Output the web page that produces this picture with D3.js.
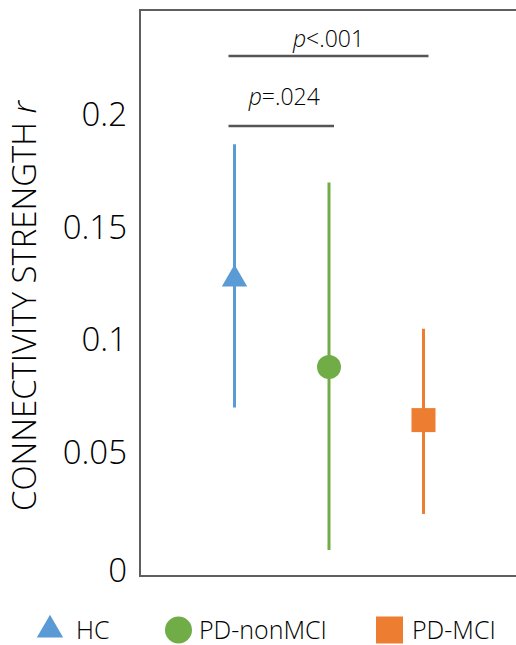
<!DOCTYPE html>
<html lang="en">
<head>
    <meta charset="UTF-8">
    <title>Connectivity strength</title>
    <script src="https://d3js.org/d3.v7.min.js"></script>
    <style>
        body, html {
            margin: 0;
            background-color: #ffffff;
            font-family: 'Open Sans', sans-serif;
        }
        svg text {
            font-family: 'Open Sans', sans-serif;
            font-weight: 300;
            fill: #000000;
        }
    </style>
</head>
<body>
<svg id="chart" width="516" height="645"></svg>

<script>
    // data
    const groups = ['HC', 'PD-nonMCI', 'PD-MCI'];
    const means = [0.127, 0.088, 0.0644];
    const lower = [0.070, 0.0067, 0.0227];
    const upper = [0.187, 0.170, 0.105];
    const yTicks = [0, 0.05, 0.1, 0.15, 0.2];
    const yTickLabels = ['0', '0.05', '0.1', '0.15', '0.2'];
    const brackets = [
        { from: 'HC', to: 'PD-MCI', level: 0.2262, label: '<.001' },
        { from: 'HC', to: 'PD-nonMCI', level: 0.1951, label: '=.024' }
    ];

    const colors = ['#5b9bd5', '#70ad47', '#ed7d31'];
    const shapes = [d3.symbolTriangle, d3.symbolCircle, d3.symbolSquare];
    const plotSizes = [280, 452, 576];
    const legendSizes = [300, 573, 729];

    const svg = d3.select('#chart');
    const plot = { left: 140, right: 518, top: 10, bottom: 576 };

    const x = d3.scalePoint().domain(groups).range([plot.left, plot.right]).padding(1);
    const y = d3.scaleLinear().domain([-0.00489, 0.24667]).range([plot.bottom, plot.top]);

    // frame: top, left, bottom
    svg.append('path')
        .attr('d', `M516,${plot.top}H${plot.left}V${plot.bottom}H516`)
        .attr('fill', 'none')
        .attr('stroke', '#5f5f5f')
        .attr('stroke-width', 2);

    // y axis labels, no tick marks
    const yAxis = d3.axisLeft(y)
        .tickValues(yTicks)
        .tickFormat((d, i) => yTickLabels[i])
        .tickSize(0)
        .tickPadding(13);
    const yg = svg.append('g').attr('transform', `translate(${plot.left},0)`).call(yAxis);
    yg.select('.domain').remove();
    yg.selectAll('text')
        .attr('font-size', 33)
        .style('font-family', "'Open Sans', sans-serif")
        .style('fill', '#000000');
    yg.selectAll('.tick').filter(d => d === 0).select('text').attr('dy', '0.5em');

    // y title
    const title = svg.append('text')
        .attr('transform', 'translate(36,306) rotate(-90)')
        .attr('text-anchor', 'middle')
        .attr('font-size', 33)
        .attr('textLength', 410)
        .attr('lengthAdjust', 'spacingAndGlyphs');
    title.append('tspan').text('CONNECTIVITY STRENGTH ');
    title.append('tspan').attr('font-style', 'italic').text('r');

    // error bars
    svg.selectAll('.err')
        .data(groups)
        .join('line')
        .attr('class', 'err')
        .attr('x1', d => x(d))
        .attr('x2', d => x(d))
        .attr('y1', (d, i) => y(lower[i]))
        .attr('y2', (d, i) => y(upper[i]))
        .attr('stroke', (d, i) => colors[i])
        .attr('stroke-width', 3);

    // mean markers
    svg.selectAll('.mean')
        .data(groups)
        .join('path')
        .attr('class', 'mean')
        .attr('transform', (d, i) => `translate(${x(d)},${y(means[i])})`)
        .attr('d', (d, i) => d3.symbol(shapes[i], plotSizes[i])())
        .attr('fill', (d, i) => colors[i]);

    // significance brackets
    const labelGap = [9, 21];
    brackets.forEach((b, i) => {
        const x1 = x(b.from) - 6;
        const x2 = x(b.to) + 5;
        svg.append('line')
            .attr('x1', x1).attr('x2', x2)
            .attr('y1', y(b.level)).attr('y2', y(b.level))
            .attr('stroke', '#555555')
            .attr('stroke-width', 2.5);
        const t = svg.append('text')
            .attr('x', (x1 + x2) / 2 + (i === 1 ? 3 : 0))
            .attr('y', y(b.level) - labelGap[i])
            .attr('text-anchor', 'middle')
            .attr('font-size', 23);
        t.append('tspan').attr('font-style', 'italic').text('p');
        t.append('tspan').text(b.label);
    });

    // legend
    const legendSymbolX = [50, 178.5, 389.5];
    const legendTextX = [76, 199, 412];
    const legendY = 630;
    groups.forEach((g, i) => {
        svg.append('path')
            .attr('transform', `translate(${legendSymbolX[i]},${legendY})`)
            .attr('d', d3.symbol(shapes[i], legendSizes[i])())
            .attr('fill', colors[i]);
        svg.append('text')
            .attr('x', legendTextX[i])
            .attr('y', legendY + 9)
            .attr('font-size', 25)
            .text(g);
    });
</script>
</body>
</html>
